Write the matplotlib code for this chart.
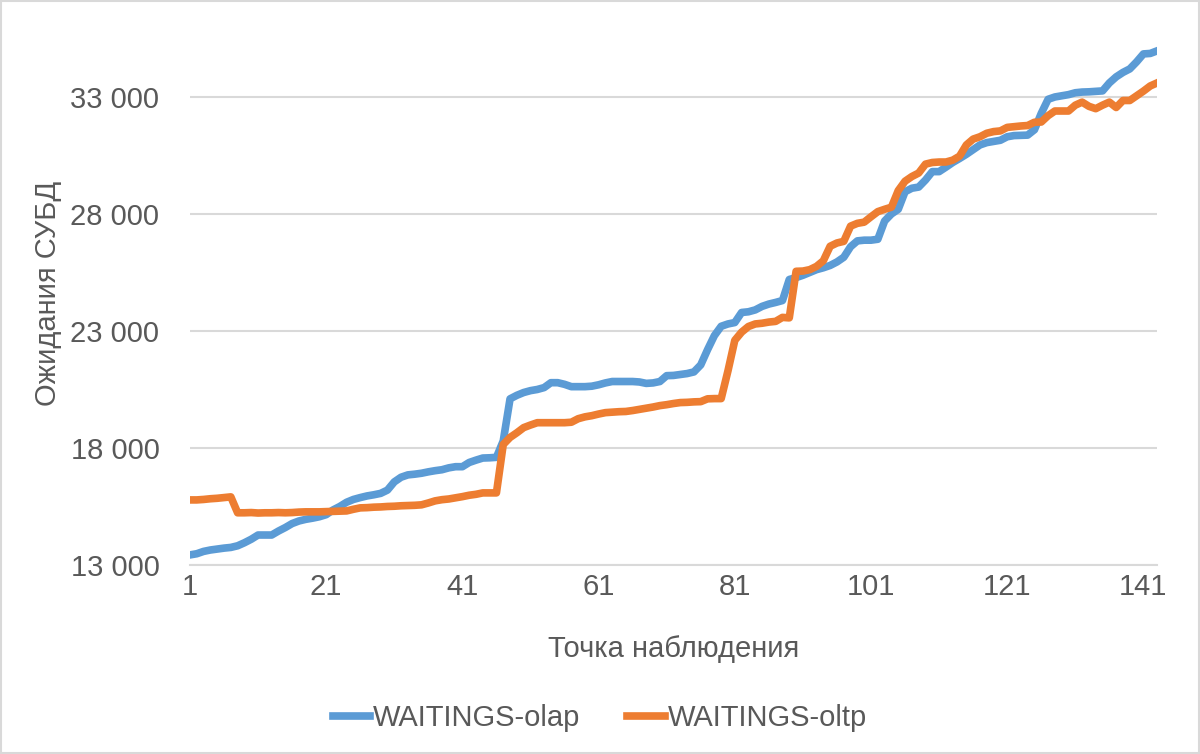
#!/usr/bin/env python
"""Ожидания СУБД по точкам наблюдения: olap vs oltp."""
from matplotlib import pyplot as plt
from matplotlib.patches import Rectangle
import numpy as np

olap = [
    13430, 13480, 13580, 13640, 13680, 13720, 13750, 13820, 13950, 14100,
    14280, 14280, 14280, 14450, 14600, 14770, 14880, 14950, 15000, 15060,
    15150, 15350, 15500, 15680, 15800, 15880, 15950, 16000, 16060, 16200,
    16550, 16750, 16850, 16880, 16920, 16980, 17030, 17070, 17150, 17200,
    17200, 17380, 17480, 17570, 17580, 17600, 18300, 20100, 20250, 20370,
    20450, 20500, 20580, 20790, 20790, 20720, 20620, 20620, 20620, 20640,
    20700, 20780, 20840, 20840, 20840, 20840, 20820, 20760, 20780, 20840,
    21090, 21100, 21140, 21180, 21250, 21550, 22200, 22800, 23200, 23300,
    23360, 23790, 23820, 23900, 24050, 24150, 24220, 24300, 25200, 25280,
    25380, 25500, 25620, 25700, 25800, 25950, 26150, 26600, 26850, 26880,
    26880, 26920, 27700, 28000, 28200, 28950, 29100, 29150, 29450, 29810,
    29810, 30000, 30200, 30370, 30550, 30750, 30950, 31050, 31100, 31150,
    31300, 31350, 31360, 31370, 31600, 32300, 32900, 33000, 33050, 33100,
    33180, 33210, 33220, 33240, 33260, 33600, 33860, 34050, 34200, 34500,
    34840, 34860, 34970,
]
oltp = [
    15780, 15780, 15800, 15830, 15850, 15880, 15910, 15230, 15230, 15240,
    15220, 15230, 15230, 15240, 15230, 15240, 15260, 15270, 15270, 15270,
    15280, 15290, 15300, 15310, 15380, 15440, 15450, 15470, 15480, 15500,
    15510, 15530, 15540, 15550, 15570, 15650, 15740, 15790, 15820, 15870,
    15920, 15980, 16020, 16080, 16080, 16080, 18150, 18450, 18650, 18870,
    18980, 19080, 19080, 19080, 19080, 19080, 19100, 19250, 19330, 19380,
    19450, 19510, 19530, 19550, 19560, 19600, 19650, 19700, 19750, 19810,
    19850, 19900, 19940, 19950, 19970, 19980, 20100, 20110, 20110, 21300,
    22600, 22950, 23190, 23300, 23330, 23380, 23410, 23580, 23560, 25550,
    25560, 25620, 25760, 26000, 26620, 26760, 26830, 27480, 27600, 27650,
    27880, 28100, 28200, 28290, 29000, 29400, 29600, 29750, 30130, 30200,
    30220, 30220, 30300, 30470, 30950, 31200, 31300, 31450, 31520, 31550,
    31700, 31730, 31760, 31780, 31920, 31930, 32200, 32400, 32400, 32400,
    32650, 32780, 32600, 32500, 32650, 32780, 32550, 32850, 32850, 33050,
    33250, 33470, 33600,
]
x_ticks = [1, 21, 41, 61, 81, 101, 121, 141]
y_ticks = [13000, 18000, 23000, 28000, 33000]

BLUE = "#5B9BD5"
ORANGE = "#ED7D31"
TEXT = "#595959"
GRID = "#D9D9D9"

plt.rcParams["font.family"] = ["Liberation Sans", "DejaVu Sans"]

if __name__ == "__main__":
    fig = plt.figure(figsize=(12, 7.54), dpi=100)
    ax = fig.add_axes([0.1583, 0.2507, 0.8059, 0.72])

    xs = np.arange(1, len(olap) + 1)
    ax.plot(xs, olap, color=BLUE, lw=5.5, label="WAITINGS-olap", solid_joinstyle="round")
    ax.plot(xs, oltp, color=ORANGE, lw=5.5, label="WAITINGS-oltp", solid_joinstyle="round")

    ax.set_xlim(1, len(olap))
    ax.set_ylim(13000, 36200)
    ax.set_xticks(x_ticks)
    ax.set_yticks(y_ticks)
    ax.set_yticklabels([f"{v:,}".replace(",", " ") for v in y_ticks])
    ax.tick_params(length=0, labelsize=21, colors=TEXT)
    ax.tick_params(axis="x", pad=6)
    ax.tick_params(axis="y", pad=22)

    ax.grid(axis="y", color=GRID, lw=1.5)
    ax.set_axisbelow(True)
    for s in ["top", "right", "left"]:
        ax.spines[s].set_visible(False)
    ax.spines["bottom"].set_color(GRID)
    ax.spines["bottom"].set_linewidth(1.5)

    ax.set_xlabel("Точка наблюдения", fontsize=21, color=TEXT, labelpad=24)
    ax.set_ylabel("Ожидания СУБД", fontsize=21, color=TEXT, labelpad=6)

    fig.legend(loc="center", bbox_to_anchor=(0.5, 0.048), ncol=2, frameon=False,
               fontsize=21, labelcolor=TEXT, handlelength=1.3, handletextpad=0.1,
               columnspacing=1.6)

    fig.patches.append(Rectangle((0.001, 0.001), 0.998, 0.998, transform=fig.transFigure,
                                 fill=False, edgecolor=GRID, lw=1.5))

    fig.savefig("out.png", dpi=100)
